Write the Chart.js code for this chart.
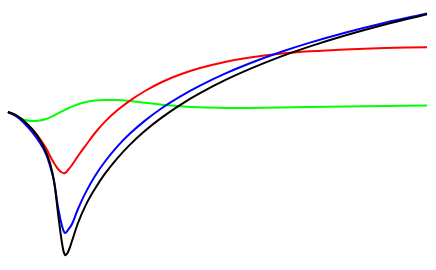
<!DOCTYPE html>
<html>
<head>
<meta charset="utf-8">
<script src="https://cdn.jsdelivr.net/npm/chart.js@4/dist/chart.umd.min.js"></script>
<style>
    html, body { margin: 0; padding: 0; background: #fff; }
    #chart { display: block; }
</style>
</head>
<body>
<canvas id="chart" width="436" height="270"></canvas>
<script>
// sample positions along the horizontal axis
const tiempos = [8, 16, 24, 32, 40, 46, 50, 54, 58, 62, 65, 68, 72, 78, 86, 95, 105, 117, 130, 145, 162, 180, 200, 225, 250, 280, 310, 345, 385, 427];

// curve values (up = larger)
const negro = [158, 155, 149, 141, 130, 118, 107, 89, 57, 27, 15, 18, 29, 47, 65.4, 81.3, 96.3, 111.4, 125.4, 139.2, 152.6, 164.9, 176.8, 189.8, 201.1, 213.1, 223.6, 234.5, 245.5, 255.8];
const azul  = [158, 154, 147, 138, 127, 116, 104, 89, 63, 44, 37, 40, 46, 61, 78.1, 94, 108.5, 123.2, 136.4, 149.4, 162, 173.4, 184.4, 196.4, 206.8, 217.8, 227.4, 237.3, 247.3, 256.6];
const rojo  = [158, 154, 148, 141, 131, 122, 114, 107, 101, 97.5, 97, 100, 105, 114, 125, 137, 148.4, 159.4, 169.4, 179, 188, 195.5, 202, 208.1, 212.5, 216.2, 218.7, 220.6, 222, 222.8];
const verde = [158, 153.5, 150.3, 149, 149.6, 151, 152.6, 154.5, 156.6, 158.7, 160.2, 161.6, 163.4, 165.8, 168, 169.4, 170, 170, 169, 167.2, 165.3, 163.8, 162.7, 162.1, 162, 162.4, 162.9, 163.5, 164, 164.5];

function puntos(valores) {
    return tiempos.map((t, i) => ({ x: t, y: valores[i] }));
}

function serie(valores, color) {
    return {
        data: puntos(valores),
        borderColor: color,
        borderWidth: 2,
        pointRadius: 0,
        fill: false,
        tension: 0.4
    };
}

new Chart(document.getElementById('chart'), {
    type: 'line',
    data: {
        datasets: [
            serie(negro, '#000000'),
            serie(azul, '#0000ff'),
            serie(rojo, '#ff0000'),
            serie(verde, '#00ff00')
        ]
    },
    options: {
        responsive: false,
        animation: false,
        layout: { padding: 0 },
        plugins: {
            legend: { display: false },
            tooltip: { enabled: false }
        },
        scales: {
            x: { type: 'linear', min: 0, max: 436, display: false },
            y: { min: 0, max: 270, display: false }
        }
    }
});
</script>
</body>
</html>
